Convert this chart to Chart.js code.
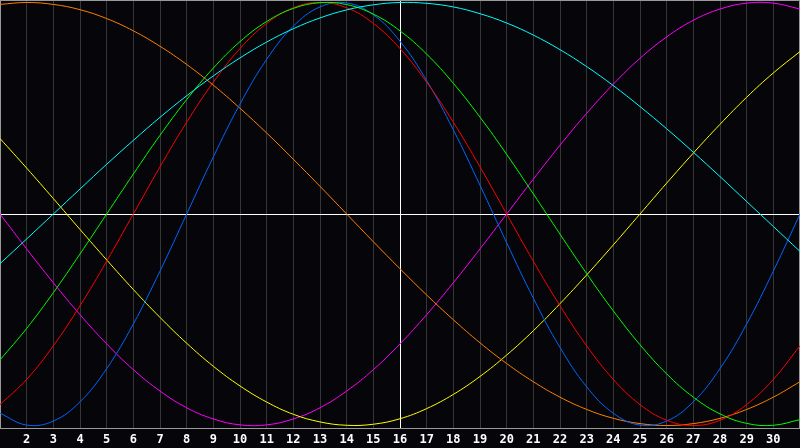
<!DOCTYPE html>
<html>
<head>
<meta charset="utf-8">
<script src="https://cdn.jsdelivr.net/npm/chart.js@4/dist/chart.umd.min.js"></script>
<style>
html,body{margin:0;padding:0;background:#060509;}
canvas{display:block;}
</style>
</head>
<body>
<canvas id="c" width="800" height="448"></canvas>
<script>
const days = [1,2,3,4,5,6,7,8,9,10,11,12,13,14,15,16,17,18,19,20,21,22,23,24,25,26,27,28,29,30,31];
const hiddenTickDays = [1, 31];
const markerDay = 16;

const blueSeries = [-0.942,-0.998,-0.979,-0.888,-0.731,-0.520,-0.270,0,0.270,0.520,0.731,0.888,0.979,0.998,0.942,0.817,0.631,0.398,0.136,-0.136,-0.398,-0.631,-0.817,-0.942,-0.998,-0.979,-0.888,-0.731,-0.520,-0.270,0];
const redSeries = [-0.901,-0.782,-0.623,-0.434,-0.223,0,0.223,0.434,0.623,0.782,0.901,0.975,1,0.975,0.901,0.782,0.623,0.434,0.223,0,-0.223,-0.434,-0.623,-0.782,-0.901,-0.975,-1,-0.975,-0.901,-0.782,-0.623];
const greenSeries = [-0.690,-0.541,-0.372,-0.189,0,0.189,0.372,0.541,0.690,0.815,0.910,0.972,0.999,0.990,0.945,0.866,0.756,0.618,0.458,0.282,0.095,-0.095,-0.282,-0.458,-0.618,-0.756,-0.866,-0.945,-0.990,-0.999,-0.972];
const magentaSeries = [0,-0.165,-0.325,-0.476,-0.614,-0.736,-0.837,-0.916,-0.969,-0.997,-0.997,-0.969,-0.916,-0.837,-0.736,-0.614,-0.476,-0.325,-0.165,0,0.165,0.325,0.476,0.614,0.736,0.837,0.916,0.969,0.997,0.997,0.969];
const yellowSeries = [0.357,0.217,0.073,-0.073,-0.217,-0.357,-0.489,-0.611,-0.720,-0.813,-0.889,-0.947,-0.983,-0.999,-0.994,-0.968,-0.920,-0.853,-0.768,-0.667,-0.552,-0.424,-0.288,-0.146,0,0.146,0.288,0.424,0.552,0.667,0.768];
const orangeSeries = [0.991,1,0.991,0.966,0.924,0.866,0.793,0.707,0.609,0.5,0.383,0.259,0.131,0,-0.131,-0.259,-0.383,-0.5,-0.609,-0.707,-0.793,-0.866,-0.924,-0.966,-0.991,-1,-0.991,-0.966,-0.924,-0.866,-0.793];
const cyanSeries = [-0.235,-0.118,0,0.118,0.235,0.348,0.457,0.559,0.653,0.738,0.813,0.876,0.927,0.965,0.989,1.000,0.996,0.979,0.947,0.903,0.846,0.777,0.697,0.607,0.508,0.403,0.292,0.177,0.059,-0.059,-0.177];

const BG = '#060509';

const bgPlugin = {
  id: 'bg',
  beforeDraw(chart) {
    const ctx = chart.ctx;
    ctx.save();
    ctx.fillStyle = BG;
    ctx.fillRect(0, 0, chart.width, chart.height);
    ctx.restore();
  },
  beforeDatasetsDraw(chart) {
    const a = chart.chartArea;
    const ctx = chart.ctx;
    ctx.save();
    ctx.strokeStyle = '#9a9a9a';
    ctx.lineWidth = 1;
    ctx.strokeRect(Math.round(a.left) + 0.5, Math.round(a.top) + 0.5, Math.round(a.right - a.left) - 1, Math.round(a.bottom - a.top));
    ctx.restore();
  }
};

function ds(data, color) {
  return { data, borderColor: color, borderWidth: 1, pointRadius: 0, pointHoverRadius: 0, fill: false, tension: 0.4 };
}

new Chart(document.getElementById('c'), {
  type: 'line',
  data: {
    labels: days,
    datasets: [
      ds(cyanSeries, '#00ffff'),
      ds(greenSeries, '#00ff00'),
      ds(redSeries, '#ff0000'),
      ds(blueSeries, '#0066ff'),
      ds(orangeSeries, '#ff8000'),
      ds(yellowSeries, '#ffff00'),
      ds(magentaSeries, '#ff00ff')
    ]
  },
  options: {
    responsive: false,
    animation: false,
    devicePixelRatio: 1,
    layout: { padding: 0 },
    plugins: { legend: { display: false }, tooltip: { enabled: false }, title: { display: false } },
    scales: {
      x: {
        type: 'category',
        offset: false,
        border: { display: false },
        grid: {
          drawTicks: false,
          lineWidth: 1,
          color: (c) => (days[c.index] === markerDay ? '#ffffff' : '#363636')
        },
        ticks: {
          autoSkip: false,
          maxRotation: 0,
          minRotation: 0,
          padding: 5,
          color: '#ffffff',
          font: { family: 'DejaVu Sans Mono', size: 12, weight: 'bold' },
          callback: function(v, i) { const d = days[i]; return hiddenTickDays.includes(d) ? '' : String(d); }
        },
        afterFit: (s) => { s.height = 20; s.paddingLeft = 0; s.paddingRight = 0; }
      },
      y: {
        min: -1.0118,
        max: 1.0118,
        border: { display: false },
        ticks: { display: false },
        grid: { drawTicks: false, color: '#ffffff', lineWidth: 1 },
        afterBuildTicks: (s) => { s.ticks = [{ value: 0 }]; },
        afterFit: (s) => { s.width = 0; s.paddingTop = 0; s.paddingBottom = 0; }
      }
    }
  },
  plugins: [bgPlugin]
});
</script>
</body>
</html>
